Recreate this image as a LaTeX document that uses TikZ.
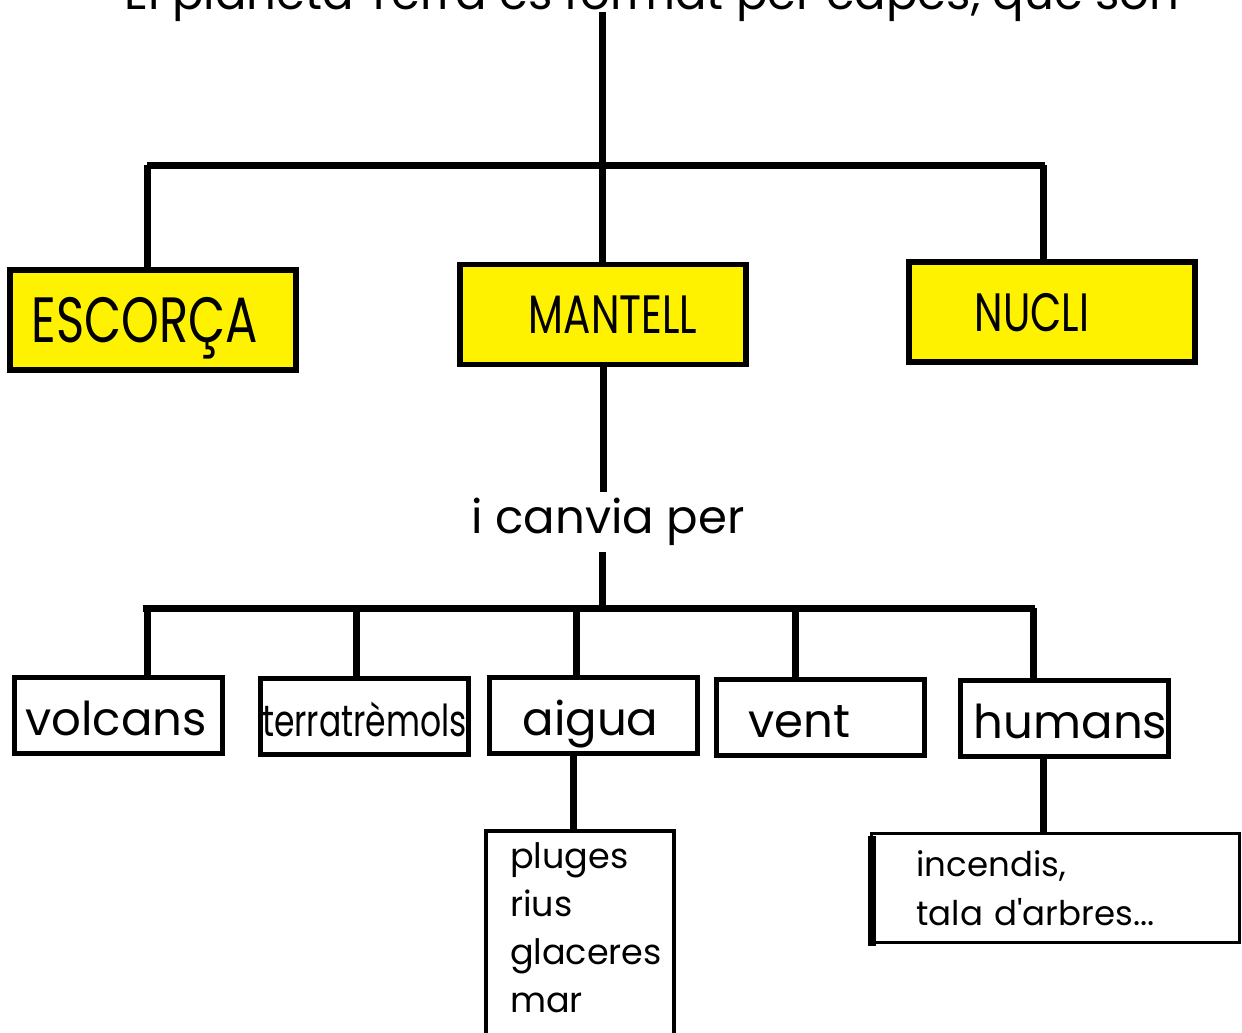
\documentclass[tikz,border=0pt]{standalone}
\usepackage{fontspec}
\setmainfont{Poppins}
\newfontfamily\narrowfont[FakeStretch=0.75]{Poppins}
\usetikzlibrary{positioning}
\tikzstyle{layer}=[draw,fill=yellow,line width=2.8pt,minimum width=143pt,minimum height=50pt,inner sep=0pt,text depth=0pt]
\tikzstyle{agent}=[draw,line width=2.5pt,minimum width=104pt,minimum height=38pt,inner sep=0pt,text height=20pt,text depth=0pt,font=\fontsize{23.3}{23.3}\selectfont]
\tikzstyle{detail}=[draw,line width=2pt,align=left,inner sep=0pt,font=\fontsize{17.5}{24}\selectfont]
\tikzstyle{trunk} = [draw,line width=3.5pt]
\tikzstyle{phrase} = [font=\fontsize{23.3}{23.3}\selectfont]

\begin{document}
\begin{tikzpicture}[x=0.5pt,y=-0.5pt]
    \useasboundingbox (0,0) rectangle (1242,1033);
    \node[phrase,anchor=base] (title) at (652,10) {El planeta Terra és format per capes, que són};

    % capes
    \foreach \pos/\name/\size/\dx/\label in {{(153,320)/escorca/32/-4pt/ESCORÇA}, {(603,314.5)/mantell/27/5pt/MANTELL}, {(1052,312)/nucli/27/-10pt/NUCLI}}
        \node[layer,font=\narrowfont\fontsize{\size}{\size}\selectfont] (\name) at \pos {\hspace*{\dx}\label\hspace*{-\dx}};

    % agents
    \foreach \pos/\name/\dx/\label in {{(118,715)/volcans/-1pt/volcans}, {(593.5,715.5)/aigua/-1.5pt/aigua}, {(820.5,717.5)/vent/-10.5pt/vent}, {(1064.5,718.5)/humans/3pt/humans}}
        \node[agent] (\name) at \pos {\hspace*{\dx}\label\hspace*{-\dx}};
    \node[agent,font=\narrowfont\fontsize{22}{22}\selectfont] (terra) at (364.5,716) {terratrèmols};

    \node[phrase,inner sep=3pt] (canvia) at (608,522) {i canvia per};

    \node[detail,anchor=north,minimum width=94pt,text width=70pt,inner xsep=12pt,inner ysep=6pt] (pluges) at (580,829) {pluges\\rius\\glaceres\\mar\rule[-24pt]{0pt}{24pt}};
    \node[detail,line width=1.5pt,minimum width=184pt,minimum height=54.5pt,text width=184pt,inner xsep=0pt,anchor=west,font=\fontsize{17}{24.5}\selectfont] (incendis) at (870,888) {\hspace*{22.5pt}incendis,\\\hspace*{22.5pt}tala d\textquotesingle arbres...};
    \path[draw,line width=4pt] ([xshift=1pt,yshift=-2pt]incendis.north west) -- ([xshift=1pt,yshift=-1pt]incendis.south west);

    \coordinate (top) at (602,12);
    \coordinate (bus1) at (147,165);
    \coordinate (bus2) at (143,608);

    \path[trunk] (top) -- (top |- mantell.north);
    \path[trunk] (bus1) -- (1045,165);
    \foreach \x/\dest in {147/escorca, 1043/nucli}
        \path[trunk] (\x,165) -- (\x,0 |- \dest.north);
    \path[trunk] (mantell.south) -- (mantell.south |- canvia.north);
    \path[trunk] (602,0 |- canvia.south) -- (602,608);
    \path[trunk] (bus2) -- (1035,608);
    \foreach \x/\dest in {147/volcans, 356/terra, 576/aigua, 795/vent, 1033/humans}
        \path[trunk] (\x,608) -- (\x,0 |- \dest.north);
    \path[trunk] (573,0 |- aigua.south) -- (573,0 |- pluges.north);
    \path[trunk] (1043,0 |- humans.south) -- (1043,0 |- incendis.north);
\end{tikzpicture}
\end{document}
